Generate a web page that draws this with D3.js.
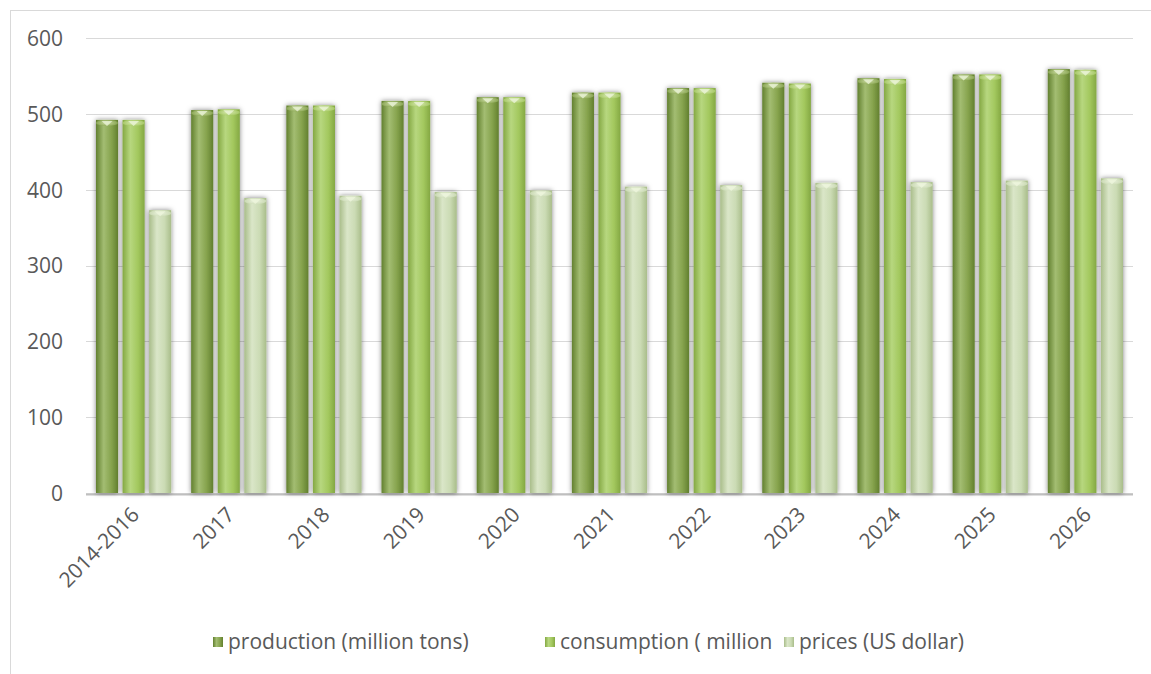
<!DOCTYPE html>
<html><head><meta charset="utf-8">
<script src="https://cdn.jsdelivr.net/npm/d3@7"></script>
<style>body{margin:0;background:#fff}svg{display:block}text{font-family:"Open Sans",sans-serif;fill:#595959}</style>
</head><body><svg id="c" width="1151" height="674"></svg>
<script>
const categories = ["2014-2016","2017","2018","2019","2020","2021","2022","2023","2024","2025","2026"];
const production = [492,505,511,517,522,528,534,541,547,552,559];
const consumption = [492,506,511,517,522,528,534,540,546,552,558];
const prices = [373,389,392,397,399,404,406,409,410,412,415];
const seriesNames = ["production (million tons)","consumption ( million","prices (US dollar)"];
const yTicks = [0,100,200,300,400,500,600];

const W=1151,H=674;
const svg=d3.select("#c");
const defs=svg.append("defs");
const pal=[
  {edge:"#62802f",mid:"#86a34d",light:"#a3bd72",cap:"#d3e2ae"},
  {edge:"#84a843",mid:"#a3c85e",light:"#b7d77f",cap:"#dfecbe"},
  {edge:"#a9bd8a",mid:"#cbdbb4",light:"#dae6c8",cap:"#eef4e2"}
];
pal.forEach((p,i)=>{
  const g=defs.append("linearGradient").attr("id","g"+i).attr("x1","0").attr("x2","1").attr("y1","0").attr("y2","0");
  g.append("stop").attr("offset","0").attr("stop-color",p.edge);
  g.append("stop").attr("offset","0.35").attr("stop-color",p.light);
  g.append("stop").attr("offset","0.7").attr("stop-color",p.mid);
  g.append("stop").attr("offset","1").attr("stop-color",p.edge);
  const c=defs.append("radialGradient").attr("id","c"+i).attr("cx","0.5").attr("cy","0.5").attr("r","0.6");
  c.append("stop").attr("offset","0").attr("stop-color",p.cap);
  c.append("stop").attr("offset","1").attr("stop-color",p.mid);
});
const f=defs.append("filter").attr("id","sh").attr("x","-30%").attr("y","-10%").attr("width","160%").attr("height","120%");
f.append("feDropShadow").attr("dx",0).attr("dy",0).attr("stdDeviation",2.4).attr("flood-color","#000").attr("flood-opacity",0.5);

// chart border
svg.append("rect").attr("x",10.5).attr("y",10.5).attr("width",1160).attr("height",700).attr("fill","none").attr("stroke","#d9d9d9");

const x0=d3.scaleBand().domain(categories).range([86,1133]).paddingInner(0.21).paddingOuter(0.105);
const x1=d3.scaleBand().domain([0,1,2]).range([0,x0.bandwidth()]).paddingInner(0.17);
const y=d3.scaleLinear().domain([0,600]).range([493,38]);

// gridlines
svg.append("g").selectAll("line").data(yTicks).join("line")
  .attr("x1",86).attr("x2",1133).attr("y1",d=>Math.round(y(d))+0.5).attr("y2",d=>Math.round(y(d))+0.5)
  .attr("stroke","#d9d9d9").attr("stroke-width",1);

// y axis labels
const yAxis=d3.axisLeft(y).tickValues(yTicks).tickSize(0).tickPadding(0);
const ya=svg.append("g").attr("transform","translate(63,0)").call(yAxis);
ya.select(".domain").remove();
ya.selectAll("text").style("font-size","21px").attr("fill","#595959").attr("dy","0.35em");

// floor line
svg.append("line").attr("x1",86).attr("x2",1133).attr("y1",494.5).attr("y2",494.5).attr("stroke","#bfbfbf").attr("stroke-width",2);

const data=categories.map((c,i)=>({c,vals:[production[i],consumption[i],prices[i]]}));
const groups=svg.append("g").selectAll("g").data(data).join("g").attr("transform",d=>`translate(${x0(d.c)},0)`);
groups.each(function(d){
  const g=d3.select(this);
  d.vals.forEach((v,k)=>{
    const bx=x1(k),bw=x1.bandwidth();
    const top=y(v), bot=y(0);
    g.append("rect").attr("x",bx).attr("y",top).attr("width",bw).attr("height",bot-top)
      .attr("fill",`url(#g${k})`).attr("filter","url(#sh)");
    g.append("ellipse").attr("cx",bx+bw/2).attr("cy",top+3).attr("rx",bw/2).attr("ry",3)
      .attr("fill",`url(#c${k})`).attr("opacity",0.8);
    g.append("path").attr("d",`M${bx+bw*0.25},${top+1} L${bx+bw/2},${top+6} L${bx+bw*0.75},${top+1}Z`)
      .attr("fill","#eef5dc").attr("opacity",0.75);
  });
});

// x labels
const xa=d3.axisBottom(x0).tickSize(0).tickPadding(0);
const xg=svg.append("g").attr("transform","translate(0,493)").call(xa);
xg.select(".domain").remove();
xg.selectAll("text").style("font-size","21px").attr("fill","#595959")
  .attr("text-anchor","end").attr("dy","0")
  .attr("transform","translate(7,23) rotate(-45)");

// legend
const lx=[213,545,784];
const lg=svg.append("g").selectAll("g").data(seriesNames).join("g").attr("transform",(d,i)=>`translate(${lx[i]},642)`);
lg.append("rect").attr("x",0).attr("y",-5).attr("width",10).attr("height",10).attr("fill",(d,i)=>`url(#g${i})`);
lg.append("text").attr("x",15).attr("dy","0.35em").style("font-size","21px").text(d=>d);
</script></body></html>
